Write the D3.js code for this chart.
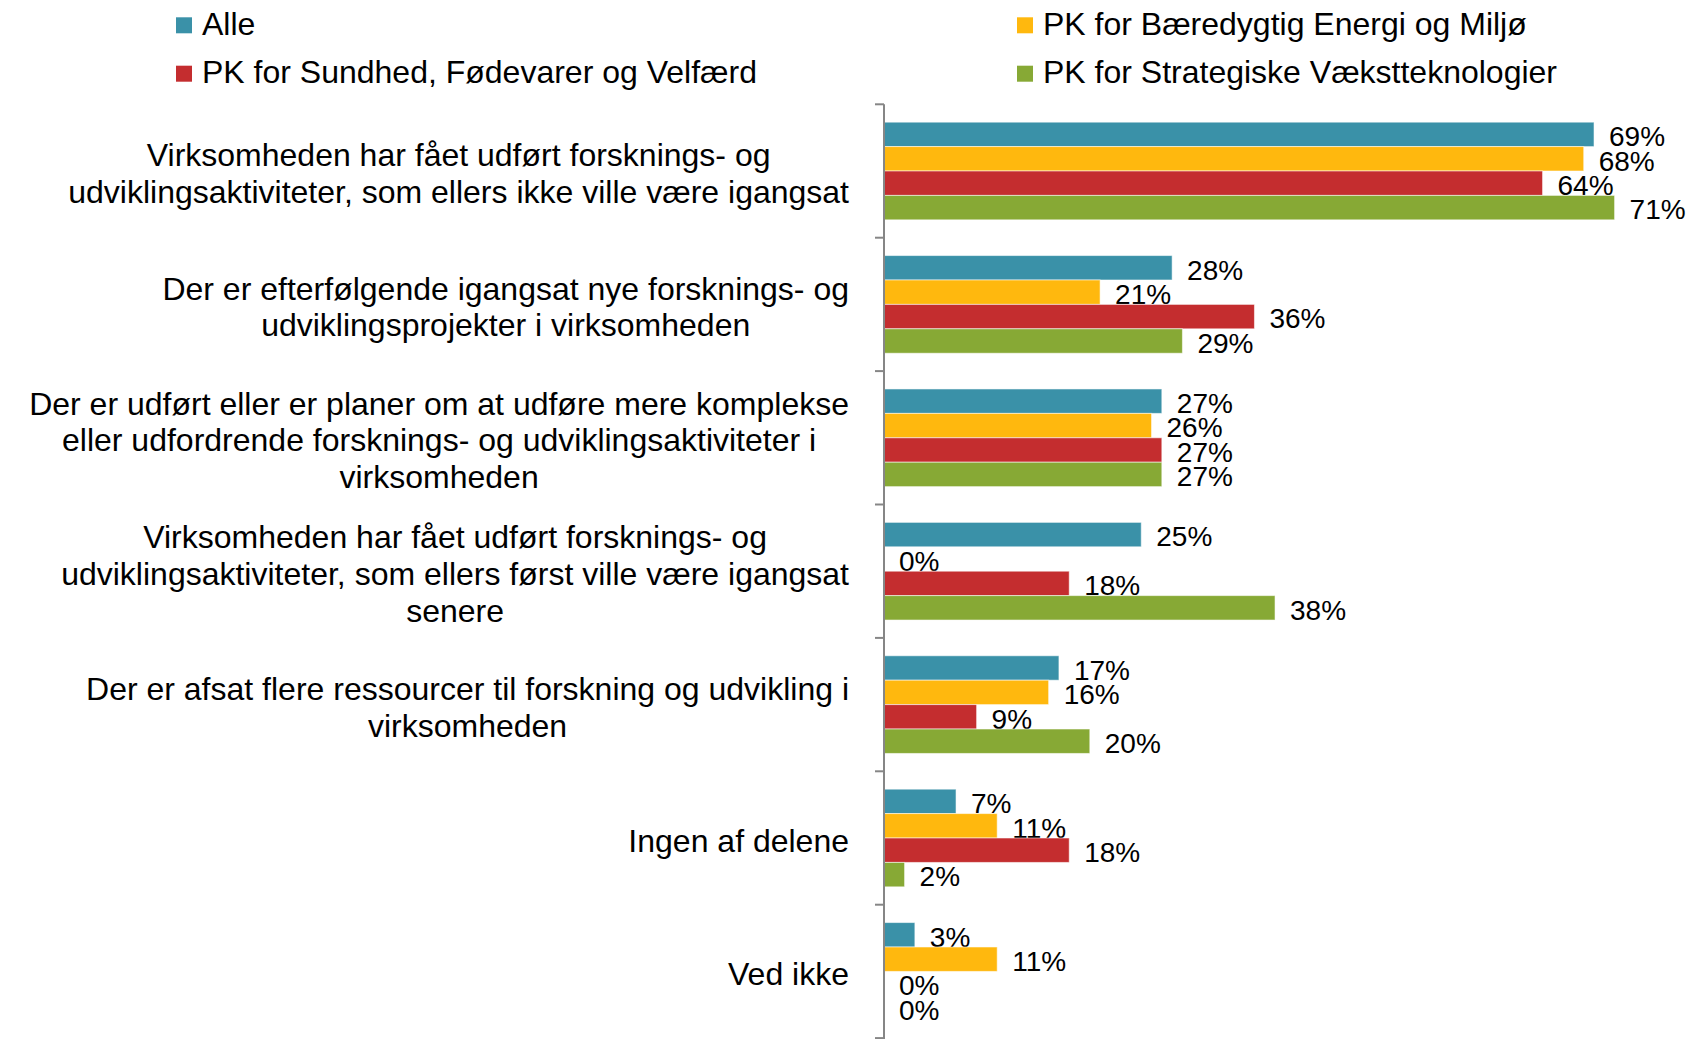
<!DOCTYPE html>
<html>
<head>
<meta charset="utf-8">
<script src="https://cdn.jsdelivr.net/npm/d3@7"></script>
<style>
  body { margin: 0; background: #fff; }
  svg { display: block; font-family: "Liberation Sans", Arial, sans-serif; }
</style>
</head>
<body>
<svg width="1691" height="1039"></svg>
<script>
// category labels, already broken into lines like the original
var categories = [
    ["Virksomheden har fået udført forsknings- og", "udviklingsaktiviteter, som ellers ikke ville være igangsat"],
    ["Der er efterfølgende igangsat nye forsknings- og", "udviklingsprojekter i virksomheden"],
    ["Der er udført eller er planer om at udføre mere komplekse", "eller udfordrende forsknings- og udviklingsaktiviteter i", "virksomheden"],
    ["Virksomheden har fået udført forsknings- og", "udviklingsaktiviteter, som ellers først ville være igangsat", "senere"],
    ["Der er afsat flere ressourcer til forskning og udvikling i", "virksomheden"],
    ["Ingen af delene"],
    ["Ved ikke"]
];
var seriesNames = ["Alle", "PK for Bæredygtig Energi og Miljø", "PK for Sundhed, Fødevarer og Velfærd", "PK for Strategiske Vækstteknologier"];
var seriesColors = ["#3a91a8", "#ffb80e", "#c42d2f", "#87a935"];

// percent per category, one array per series
var alle = [69, 28, 27, 25, 17, 7, 3];
var energi = [68, 21, 26, 0, 16, 11, 11];
var sundhed = [64, 36, 27, 18, 9, 18, 0];
var vaekst = [71, 29, 27, 38, 20, 2, 0];
var series = [alle, energi, sundhed, vaekst];

var svg = d3.select("svg");
var axisX = 884;

var catIdx = d3.range(categories.length);
var y0 = d3.scaleBand().domain(catIdx).range([104.3, 104.3 + 7 * 133.4])
    .paddingInner(0.268).paddingOuter(0.134);
var y1 = d3.scaleBand().domain(d3.range(series.length)).range([0, y0.bandwidth()]);
var x = d3.scaleLinear().domain([0, 80]).range([axisX, axisX + 80 * 10.29]);

// bars
var groups = svg.append("g").selectAll("g")
    .data(catIdx).enter().append("g")
    .attr("transform", i => "translate(0," + y0(i) + ")");

var cells = groups.selectAll("g.cell")
    .data(i => series.map((s, k) => ({ k: k, v: s[i] })))
    .enter().append("g").attr("class", "cell");

cells.filter(d => d.v > 0).append("rect")
    .attr("x", x(0))
    .attr("y", d => y1(d.k))
    .attr("width", d => x(d.v) - x(0))
    .attr("height", y1.bandwidth())
    .attr("fill", d => seriesColors[d.k])
    .attr("stroke", "#ffffff").attr("stroke-opacity", 0.55).attr("stroke-width", 1);

cells.append("text")
    .attr("x", d => x(d.v) + 15)
    .attr("y", d => y1(d.k) + y1.bandwidth() / 2)
    .attr("dy", "0.42em")
    .attr("font-size", 28).attr("fill", "#000")
    .text(d => d.v + "%");

// vertical axis with ticks between categories
var step = y0.step();
var axisTop = y0.range()[0];
svg.append("line")
    .attr("x1", axisX).attr("x2", axisX)
    .attr("y1", axisTop).attr("y2", 1039)
    .attr("stroke", "#868686").attr("stroke-width", 2);
svg.append("g").selectAll("line")
    .data(d3.range(categories.length + 1)).enter().append("line")
    .attr("x1", axisX - 9).attr("x2", axisX)
    .attr("y1", k => axisTop + k * step).attr("y2", k => axisTop + k * step)
    .attr("stroke", "#868686").attr("stroke-width", 2);

// category labels: centered lines, block right-aligned at the axis
var labelRight = 849, lineH = 36.7;
var labels = svg.append("g").selectAll("text")
    .data(catIdx).enter().append("text")
    .attr("font-size", 32).attr("fill", "#000")
    .attr("text-anchor", "middle");
labels.each(function(i) {
    var t = d3.select(this);
    var lines = categories[i];
    var cy = y0(i) + y0.bandwidth() / 2;
    var firstBase = cy - (lines.length - 1) / 2 * lineH + 13.6;
    lines.forEach(function(l, j) {
        t.append("tspan").attr("y", firstBase + j * lineH).text(l);
    });
    var w = d3.max(t.selectAll("tspan").nodes(), n => n.getComputedTextLength());
    t.selectAll("tspan").attr("x", labelRight - w / 2);
});

// legend, two columns
var legX = [176, 1017], legY = [17.3, 65.7];
var leg = svg.append("g").selectAll("g")
    .data(seriesNames).enter().append("g")
    .attr("transform", (d, k) => "translate(" + legX[k % 2] + "," + legY[Math.floor(k / 2)] + ")");
leg.append("rect").attr("width", 16).attr("height", 16)
    .attr("fill", (d, k) => seriesColors[k]);
leg.append("text").attr("x", 26).attr("y", 17.7)
    .attr("font-size", 32).attr("fill", "#000")
    .text(d => d);
</script>
</body>
</html>
